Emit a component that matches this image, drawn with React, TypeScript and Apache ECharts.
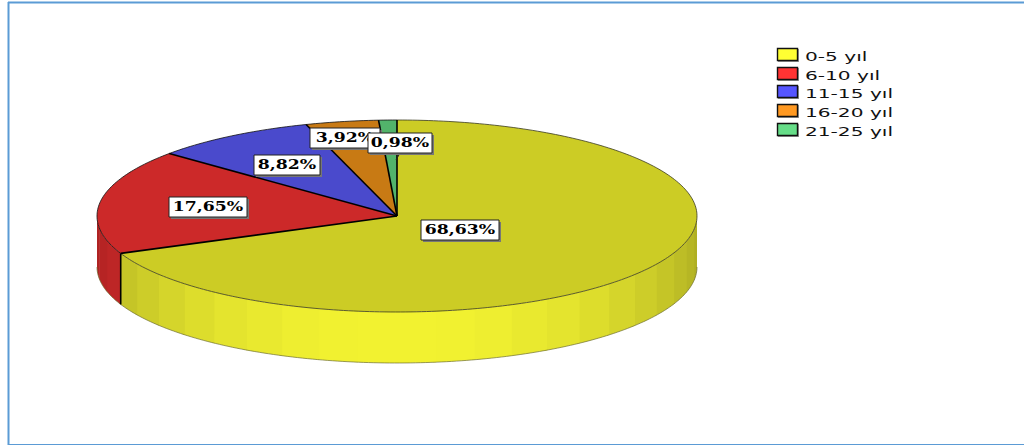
import React, { useEffect, useRef } from "react";
import * as echarts from "echarts";

// Years-of-service shares, in percent
const categories = ["0-5 yıl", "6-10 yıl", "11-15 yıl", "16-20 yıl", "21-25 yıl"];
const shares = [68.63, 17.65, 8.82, 3.92, 0.98];
const shareLabels = ["68,63%", "17,65%", "8,82%", "3,92%", "0,98%"];

const topColors = ["#CCCC25", "#CC2929", "#4A4ACC", "#C87A14", "#52B36B"];
const legendColors = ["#FFFF33", "#FF3333", "#5555FF", "#FF9922", "#66DD88"];

// Centre and half-width of each value tag
const tagCentres = [[460, 230], [208, 207], [287, 165], [345, 138], [400, 143]];
const tagHalfWidths = [39, 39, 33, 35, 32];

const CX = 397;
const CY = 216;
const RX = 300;
const RY = 96;
const DEPTH = 51;
const BAND = 7.5;

const rad = (d: number) => (d * Math.PI) / 180;
const rim = (deg: number, drop = 0): [number, number] => [
  CX + RX * Math.sin(rad(deg)),
  CY - RY * Math.cos(rad(deg)) + drop,
];

const total = shares.reduce((a, b) => a + b, 0);
const sliceStart = (i: number) =>
  (shares.slice(0, i).reduce((a, b) => a + b, 0) / total) * 360;

const arcPoints = (from: number, to: number, drop = 0) => {
  const pts: [number, number][] = [];
  const steps = Math.max(2, Math.ceil(Math.abs(to - from)));
  for (let k = 0; k <= steps; k++) pts.push(rim(from + ((to - from) * k) / steps, drop));
  return pts;
};

// Side wall shading: brightest facing the viewer, darker towards both ends
const shade = (hex: string, deg: number) => {
  const n = parseInt(hex.slice(1), 16);
  const f = 0.68 + 0.27 * Math.pow(Math.max(0, -Math.cos(rad(deg))), 1.3);
  const ch = (v: number) => Math.min(255, Math.round(v * f));
  return `rgb(${ch((n >> 16) & 255)},${ch((n >> 8) & 255)},${ch(n & 255)})`;
};

function renderSlice(params: any, api: any) {
  const i = params.dataIndex;
  const start = sliceStart(i);
  const end = start + (api.value(0) / total) * 360;
  const children: any[] = [];

  // Outer wall, only the part facing the viewer (90 to 270 degrees clockwise from the top).
  // Each band runs a little under the next one so no seams show between them.
  const wallFrom = Math.max(start, 90);
  const wallTo = Math.min(end, 270);
  if (wallFrom < wallTo) {
    const bandStart = Math.floor(wallFrom / BAND) * BAND;
    for (let a = bandStart; a < wallTo; a += BAND) {
      const from = Math.max(a, wallFrom);
      const to = Math.min(a + BAND + 0.6, wallTo);
      children.push({
        type: "polygon",
        shape: { points: [...arcPoints(from, to), ...arcPoints(to, from, DEPTH)] },
        style: { fill: shade(legendColors[i], a + BAND / 2), stroke: "none" },
      });
    }
    children.push({
      type: "polyline",
      shape: { points: arcPoints(wallFrom, wallTo, DEPTH) },
      style: { fill: "none", stroke: "#6f6f30", lineWidth: 0.7 },
    });
  }

  // Top face
  children.push({
    type: "polygon",
    shape: { points: [[CX, CY], ...arcPoints(start, end)] },
    style: { fill: topColors[i], stroke: "none" },
  });
  children.push({
    type: "polyline",
    shape: { points: arcPoints(start, end) },
    style: { fill: "none", stroke: i === 0 ? "#3a3a20" : "#111", lineWidth: 0.8 },
  });
  return { type: "group", children };
}

// Black radial edges between slices, and the seam where the wall changes colour
function renderEdges(params: any) {
  const i = params.dataIndex;
  const angle = sliceStart(i);
  const [x, y] = rim(angle);
  const children: any[] = [
    { type: "line", shape: { x1: CX, y1: CY, x2: x, y2: y }, style: { stroke: "#000", lineWidth: 1.6 } },
  ];
  if (angle > 90 && angle < 270) {
    children.push({
      type: "line",
      shape: { x1: x, y1: y, x2: x, y2: y + DEPTH },
      style: { stroke: "#000", lineWidth: 1.6 },
    });
  }
  return { type: "group", children };
}

function renderTag(params: any) {
  const i = params.dataIndex;
  const [cx, cy] = tagCentres[i];
  const hw = tagHalfWidths[i];
  const hh = 10;
  const children: any[] = [];
  if (i === 4) {
    children.push({
      type: "line",
      shape: { x1: 400, y1: 153, x2: 396, y2: 160 },
      style: { stroke: "#222", lineWidth: 1 },
    });
  }
  children.push(
    { type: "rect", shape: { x: cx - hw + 2, y: cy - hh + 2, width: hw * 2, height: hh * 2 }, style: { fill: "#777" } },
    {
      type: "rect",
      shape: { x: cx - hw, y: cy - hh, width: hw * 2, height: hh * 2 },
      style: { fill: "#fff", stroke: "#222", lineWidth: 1 },
    },
    {
      type: "text",
      x: cx,
      y: cy,
      scaleX: 1.38,
      style: {
        text: shareLabels[i],
        font: 'bold 12.5px "DejaVu Serif"',
        fill: "#000",
        align: "center",
        verticalAlign: "middle",
      },
    },
  );
  return { type: "group", children };
}

const frameColor = "#5B9BD5";
const legendRowTops = [48, 67, 85, 104, 123];

export default function App() {
  const ref = useRef<HTMLDivElement>(null);

  useEffect(() => {
    const chart = echarts.init(ref.current!, undefined, { renderer: "svg" });
    const rows = shares.map((v) => [v]);
    chart.setOption({
      animation: false,
      backgroundColor: "#fff",
      series: [
        { type: "custom", coordinateSystem: "none", z: 2, data: rows, renderItem: renderSlice, silent: true },
        { type: "custom", coordinateSystem: "none", z: 3, data: rows, renderItem: renderEdges, silent: true },
        { type: "custom", coordinateSystem: "none", z: 4, data: rows, renderItem: renderTag, silent: true },
      ],
      graphic: [
        { type: "line", z: 10, shape: { x1: 8, y1: 2.5, x2: 1024, y2: 2.5 }, style: { stroke: frameColor, lineWidth: 2 } },
        { type: "line", z: 10, shape: { x1: 8.5, y1: 2, x2: 8.5, y2: 445 }, style: { stroke: frameColor, lineWidth: 2 } },
        { type: "line", z: 10, shape: { x1: 8, y1: 444.5, x2: 1024, y2: 444.5 }, style: { stroke: frameColor, lineWidth: 1 } },
        ...categories.flatMap((name, i) => [
          { type: "rect", z: 10, shape: { x: 778, y: legendRowTops[i] + 1, width: 21, height: 13 }, style: { fill: "#999" } },
          {
            type: "rect",
            z: 11,
            shape: { x: 777.5, y: legendRowTops[i] + 0.5, width: 20, height: 12 },
            style: { fill: legendColors[i], stroke: "#111", lineWidth: 1.4 },
          },
          {
            type: "text",
            z: 11,
            x: 805,
            y: legendRowTops[i] + 8.5,
            scaleX: 1.55,
            style: {
              text: name,
              font: '13px "DejaVu Sans"',
              fill: "#111",
              align: "left",
              verticalAlign: "middle",
            },
          },
        ]),
      ],
    });
    return () => chart.dispose();
  }, []);

  return (
    <div
      ref={ref}
      style={{ position: "fixed", left: 0, top: 0, width: 1024, height: 445 }}
    />
  );
}
